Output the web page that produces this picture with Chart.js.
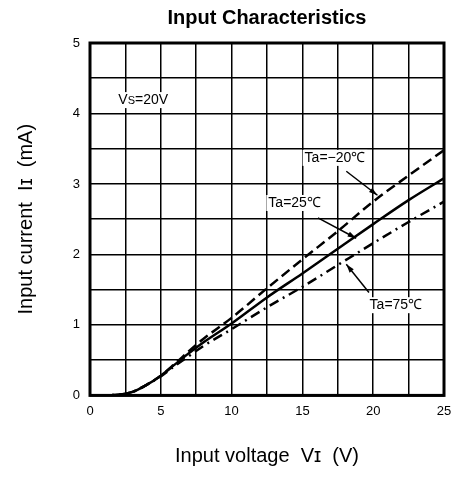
<!DOCTYPE html>
<html>
<head>
<meta charset="utf-8">
<script src="https://cdn.jsdelivr.net/npm/chart.js@4"></script>
<style>
  html, body { margin: 0; padding: 0; background: #fff; }
  #wrap { width: 455px; height: 480px; }
</style>
</head>
<body>
<div id="wrap"><canvas id="chart" width="455" height="480"></canvas></div>
<script>
const voltages = [0.5, 2, 3, 4, 5, 6, 7, 8, 10, 12.5, 15, 17.5, 20, 22.5, 25];
const currentMinus20 = [0, 0.01, 0.05, 0.15, 0.28, 0.45, 0.63, 0.8, 1.1, 1.52, 1.93, 2.33, 2.75, 3.12, 3.48];
const current25 = [0, 0.01, 0.05, 0.15, 0.28, 0.44, 0.6, 0.75, 1.02, 1.39, 1.73, 2.08, 2.43, 2.77, 3.08];
const current75 = [0, 0.01, 0.05, 0.15, 0.27, 0.42, 0.56, 0.7, 0.94, 1.25, 1.54, 1.85, 2.16, 2.46, 2.75];

const seriesLabels = ['Ta=\u221220\u2103', 'Ta=25\u2103', 'Ta=75\u2103'];
const xTicks = [0, 5, 10, 15, 20, 25];
const yTicks = [0, 1, 2, 3, 4, 5];

// label position (data coords) and arrow from -> to
const notes = [
    { text: seriesLabels[0], at: [17.3, 3.37], from: [18.1, 3.18], to: [20.3, 2.84] },
    { text: seriesLabels[1], at: [14.45, 2.73], from: [16.1, 2.52], to: [18.8, 2.23] },
    { text: seriesLabels[2], at: [21.6, 1.28], from: [19.7, 1.46], to: [18.1, 1.86] },
];

const FONT = '"Liberation Sans", Arial, sans-serif';

function toPoints(ys) {
    return voltages.map((v, i) => ({ x: v, y: ys[i] }));
}

const extras = {
    id: 'extras',
    afterDatasetsDraw(chart) {
        const { ctx, chartArea: a, scales: { x, y } } = chart;
        ctx.save();
        // frame
        ctx.strokeStyle = '#000';
        ctx.lineWidth = 3;
        ctx.strokeRect(a.left, a.top, a.right - a.left, a.bottom - a.top);

        // Vs=20V
        ctx.font = '14px ' + FONT;
        ctx.textBaseline = 'middle';
        ctx.textAlign = 'left';
        const vx = x.getPixelForValue(2.0), vy = y.getPixelForValue(4.19);
        ctx.fillStyle = '#fff';
        ctx.fillRect(vx - 2, vy - 8, 52, 16);
        ctx.fillStyle = '#000';
        ctx.fillText('V', vx, vy);
        let w = ctx.measureText('V').width;
        ctx.font = '11px ' + FONT;
        ctx.fillText('S', vx + w, vy + 1);
        w += ctx.measureText('S').width;
        ctx.font = '14px ' + FONT;
        ctx.fillText('=20V', vx + w, vy);

        // series labels with arrows
        notes.forEach(n => {
            ctx.font = '14px ' + FONT;
            ctx.textAlign = 'center';
            const tx = x.getPixelForValue(n.at[0]), ty = y.getPixelForValue(n.at[1]);
            const tw = ctx.measureText(n.text).width;
            ctx.fillStyle = '#fff';
            ctx.fillRect(tx - tw / 2 - 2, ty - 8, tw + 4, 16);
            ctx.fillStyle = '#000';
            ctx.fillText(n.text, tx, ty);

            const x1 = x.getPixelForValue(n.from[0]), y1 = y.getPixelForValue(n.from[1]);
            const x2 = x.getPixelForValue(n.to[0]), y2 = y.getPixelForValue(n.to[1]);
            ctx.lineWidth = 1.5;
            ctx.beginPath();
            ctx.moveTo(x1, y1);
            ctx.lineTo(x2, y2);
            ctx.stroke();
            const ang = Math.atan2(y2 - y1, x2 - x1);
            ctx.beginPath();
            ctx.moveTo(x2, y2);
            ctx.lineTo(x2 - 9 * Math.cos(ang - 0.3), y2 - 9 * Math.sin(ang - 0.3));
            ctx.lineTo(x2 - 9 * Math.cos(ang + 0.3), y2 - 9 * Math.sin(ang + 0.3));
            ctx.closePath();
            ctx.fill();
        });
        ctx.restore();
    }
};

const ctx = document.getElementById('chart').getContext('2d');

new Chart(ctx, {
    type: 'line',
    data: {
        datasets: [
            {
                label: seriesLabels[0],
                data: toPoints(currentMinus20),
                borderColor: '#000',
                borderWidth: 2.5,
                borderDash: [10, 5],
            },
            {
                label: seriesLabels[1],
                data: toPoints(current25),
                borderColor: '#000',
                borderWidth: 2.5,
            },
            {
                label: seriesLabels[2],
                data: toPoints(current75),
                borderColor: '#000',
                borderWidth: 2.5,
                borderDash: [10, 5, 2, 5],
            },
        ],
    },
    options: {
        responsive: false,
        animation: false,
        layout: { padding: { top: 0, right: 11, bottom: 12, left: 0 } },
        elements: {
            point: { radius: 0 },
            line: { cubicInterpolationMode: 'monotone', fill: false },
        },
        plugins: {
            legend: { display: false },
            tooltip: { enabled: false },
            title: {
                display: true,
                text: 'Input Characteristics',
                color: '#000',
                fullSize: false,
                font: { family: FONT, size: 20, weight: 'bold' },
                padding: { top: 6, bottom: 13 },
            },
        },
        scales: {
            x: {
                type: 'linear',
                min: 0,
                max: 25,
                border: { display: false },
                grid: { color: '#000', lineWidth: 1.5, drawTicks: false },
                afterFit(scale) { scale.paddingRight = 0; scale.paddingLeft = 0; },
                ticks: {
                    stepSize: 2.5,
                    color: '#000',
                    padding: 8,
                    maxRotation: 0,
                    font: { family: FONT, size: 13 },
                    callback: v => xTicks.includes(v) ? String(v) : '',
                },
                title: {
                    display: true,
                    text: 'Input voltage  V\u026A  (V)',
                    color: '#000',
                    font: { family: FONT, size: 20 },
                    padding: { top: 17, bottom: 0 },
                },
            },
            y: {
                min: 0,
                max: 5,
                border: { display: false },
                grid: { color: '#000', lineWidth: 1.5, drawTicks: false },
                afterFit(scale) { scale.width = 90; },
                ticks: {
                    stepSize: 0.5,
                    color: '#000',
                    padding: 10,
                    font: { family: FONT, size: 13 },
                    callback: v => yTicks.includes(v) ? String(v) : '',
                },
                title: {
                    display: true,
                    text: 'Input current  I\u026A  (mA)',
                    color: '#000',
                    font: { family: FONT, size: 20 },
                    padding: { top: 14, bottom: 0 },
                },
            },
        },
    },
    plugins: [extras],
});
</script>
</body>
</html>
